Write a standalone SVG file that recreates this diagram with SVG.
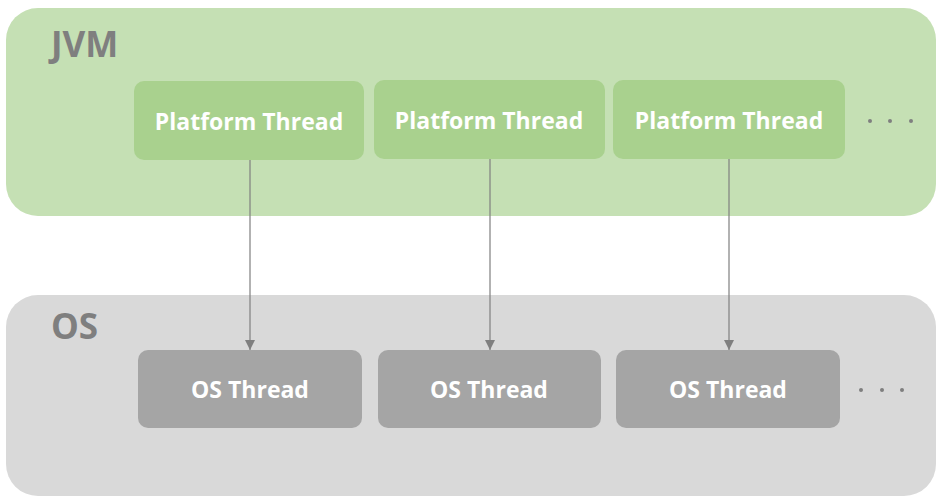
<svg xmlns="http://www.w3.org/2000/svg" width="940" height="503" viewBox="0 0 940 503">
<defs>
<marker id="ah" markerWidth="10" markerHeight="10" refX="10" refY="5" orient="auto" markerUnits="userSpaceOnUse" viewBox="0 0 10 10">
<path d="M0,0 L10,5 L0,10 Z" fill="#7f7f7f"/>
</marker>
<style>
.lbl{font-family:"Open Sans","Noto Sans",sans-serif;font-weight:bold;font-size:23px;fill:#ffffff;text-anchor:middle}
.title{font-family:"Open Sans","Noto Sans",sans-serif;font-weight:bold;font-size:35px;fill:#7f7f7f}
.pt{fill:#a9d18e}
.ot{fill:#a5a5a5}
.dot{fill:#7f7f7f}
.conn{stroke:#7f7f7f;stroke-width:1.2;fill:none}
</style>
</defs>
<rect width="940" height="503" fill="#ffffff"/>
<g id="jvm">
<rect x="6" y="8" width="930" height="208" rx="32" fill="#c5e0b4"/>
<text class="title" x="51" y="57">JVM</text>
<circle class="dot" cx="870" cy="121" r="2"/><circle class="dot" cx="890" cy="121" r="2"/><circle class="dot" cx="911" cy="121" r="2"/>
</g>
<g id="os">
<rect x="6" y="295" width="930" height="201" rx="32" fill="#d9d9d9"/>
<text class="title" x="51" y="339">OS</text>
<circle class="dot" cx="861" cy="390" r="2"/><circle class="dot" cx="882" cy="390" r="2"/><circle class="dot" cx="902" cy="390" r="2"/>
</g>
<g id="pt1"><rect class="pt" x="134" y="81" width="230" height="79" rx="10"/><text class="lbl" x="249" y="130">Platform Thread</text></g>
<g id="pt2"><rect class="pt" x="374" y="80" width="231" height="79" rx="10"/><text class="lbl" x="489" y="129">Platform Thread</text></g>
<g id="pt3"><rect class="pt" x="613" y="80" width="232" height="79" rx="10"/><text class="lbl" x="729" y="129">Platform Thread</text></g>
<g id="ot1"><rect class="ot" x="138" y="350" width="224" height="78" rx="10"/><text class="lbl" x="250" y="398">OS Thread</text></g>
<g id="ot2"><rect class="ot" x="378" y="350" width="223" height="78" rx="10"/><text class="lbl" x="489" y="398">OS Thread</text></g>
<g id="ot3"><rect class="ot" x="616" y="350" width="224" height="78" rx="10"/><text class="lbl" x="728" y="398">OS Thread</text></g>
<g id="connectors">
<line class="conn" x1="250" y1="160" x2="250" y2="350" marker-end="url(#ah)"/>
<line class="conn" x1="490" y1="159" x2="490" y2="350" marker-end="url(#ah)"/>
<line class="conn" x1="729" y1="159" x2="729" y2="350" marker-end="url(#ah)"/>
</g>
</svg>
